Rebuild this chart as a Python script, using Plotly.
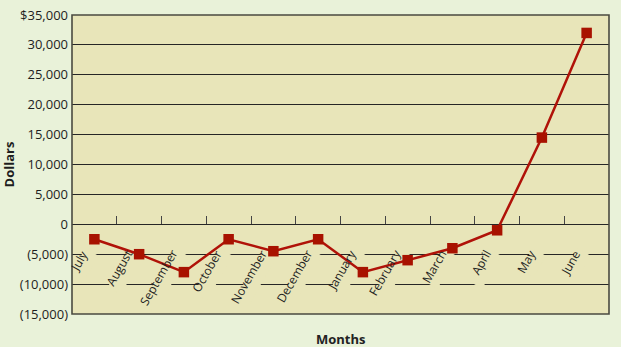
import math
import plotly.graph_objects as go

months = ["July", "August", "September", "October", "November", "December",
          "January", "February", "March", "April", "May", "June"]
dollars = [-2500, -5000, -8000, -2500, -4500, -2500,
           -8000, -6000, -4000, -1000, 14500, 32000]
y_tickvals = [35000, 30000, 25000, 20000, 15000, 10000, 5000, 0, -5000, -10000, -15000]
y_ticktext = ["$35,000", "30,000", "25,000", "20,000", "15,000", "10,000", "5,000",
              "0", "(5,000)", "(10,000)", "(15,000)"]

PAGE = "#e9f2d9"
PLOT = "#e8e5b9"
RED = "#b01208"
FONT = "Open Sans"
ymin, ymax = -15000, 35000

fig = go.Figure()
fig.add_trace(go.Scatter(
    x=months, y=dollars, mode="lines+markers",
    line=dict(color=RED, width=2.5),
    marker=dict(symbol="square", size=10.5, color="#a81200"),
    showlegend=False, cliponaxis=False,
))

# rotated month labels below the zero line, with plot-coloured backing boxes
ca, sa = math.cos(math.radians(60)), math.sin(math.radians(60))
shapes = []
for m in months:
    fig.add_annotation(x=m, y=0, xref="x", yref="y", text=m, showarrow=False,
                       textangle=-60, xanchor="right", yanchor="top",
                       yshift=-21, xshift=-1,
                       font=dict(family=FONT, size=12, color="#1e1e1e"),
                       borderpad=0)
    L = 6.8 * len(m) + 4
    H = 15
    p0 = (-9.0, 24.0)
    p1 = (p0[0] + H * sa, p0[1] + H * ca)
    p2 = (p1[0] - L * ca, p1[1] + L * sa)
    p3 = (p0[0] - L * ca, p0[1] + L * sa)
    pts = [p0, p1, p2, p3]
    path = "M " + " L ".join(f"{px:.1f},{-py:.1f}" for px, py in pts) + " Z"
    shapes.append(dict(type="path", xref="x", yref="y", xsizemode="pixel",
                       ysizemode="pixel", xanchor=m, yanchor=0, path=path,
                       fillcolor=PLOT, line=dict(width=0), layer="between"))

fig.add_annotation(x=0.5, y=0, xref="paper", yref="paper", yanchor="middle",
                   yshift=-25, text="<b>Months</b>", showarrow=False,
                   font=dict(family=FONT, size=13, color="#222"))

zero_pos = (0 - ymin) / (ymax - ymin)

shapes.append(dict(type="rect", xref="paper", yref="paper", x0=0, x1=1, y0=0, y1=1,
                   line=dict(color="#4a4a40", width=1.6), layer="above"))

fig.update_layout(
    width=621, height=347,
    margin=dict(l=72, r=12, t=15, b=33, autoexpand=False),
    paper_bgcolor=PAGE, plot_bgcolor=PLOT,
    font=dict(family=FONT, size=13, color="#1e1e1e"),
    xaxis=dict(type="category", categoryorder="array", categoryarray=months,
               range=[-0.5, len(months) - 0.5],
               anchor="free", position=zero_pos, automargin=False,
               ticks="inside", tickson="boundaries", ticklen=8, tickwidth=1.2,
               tickcolor="#444", showticklabels=False, showgrid=False,
               showline=False, zeroline=False),
    yaxis=dict(range=[ymin, ymax], tickvals=y_tickvals, ticktext=y_ticktext,
               automargin=False,
               showgrid=True, gridcolor="#262626", gridwidth=1.3,
               zeroline=False, showline=False, ticks="", ticklabelstandoff=3,
               title=dict(text="<b>Dollars</b>", standoff=4,
                          font=dict(family=FONT, size=13, color="#1e1e1e"))),
    shapes=shapes,
)

fig.write_html("out.html")
